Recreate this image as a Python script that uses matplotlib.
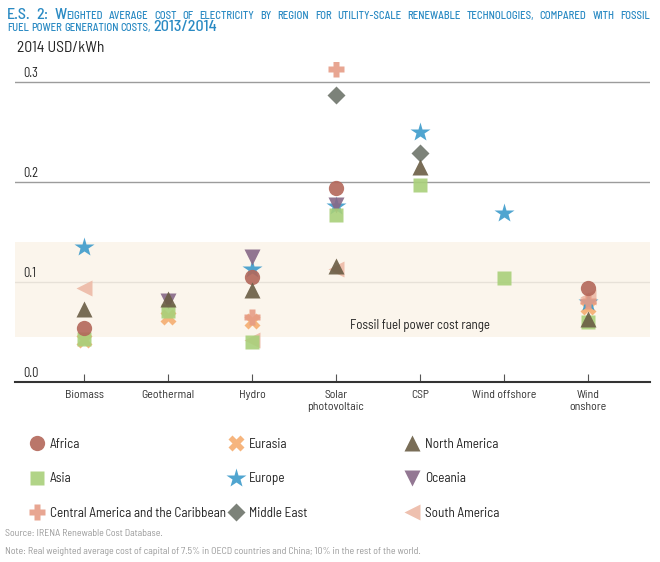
#!/usr/bin/env python3
import numpy as np
import matplotlib
matplotlib.use('Agg')
import matplotlib.pyplot as plt
from matplotlib import font_manager
from matplotlib.font_manager import FontProperties
from matplotlib.lines import Line2D

W, H = 660, 562
nan = np.nan

categories = ['Biomass', 'Geothermal', 'Hydro', 'Solar\nphotovoltaic', 'CSP',
              'Wind offshore', 'Wind\nonshore']

africa = [0.054, nan, 0.105, 0.194, nan, nan, 0.094]
asia = [0.043, 0.071, 0.040, 0.167, 0.197, 0.104, 0.060]
central_america = [nan, nan, 0.065, 0.313, nan, nan, 0.081]
eurasia = [0.042, 0.065, 0.061, nan, nan, nan, 0.075]
europe = [0.135, nan, 0.113, 0.176, 0.250, 0.169, 0.080]
middle_east = [nan, nan, nan, 0.287, 0.229, nan, nan]
north_america = [0.073, 0.083, 0.092, 0.116, 0.215, nan, 0.063]
oceania = [nan, 0.081, 0.125, 0.177, nan, nan, nan]
south_america = [0.094, nan, 0.042, 0.113, nan, nan, 0.085]

fossil_range = (0.045, 0.14)
yticks = [0.0, 0.1, 0.2, 0.3]

# name, values, marker, size, colour
regions = [
    ('Africa', africa, 'o', 11, '#B3675A'),
    ('Asia', asia, 's', 10, '#A9D07A'),
    ('Central America and the Caribbean', central_america, 'P', 11, '#E69C86'),
    ('Eurasia', eurasia, 'X', 11, '#F5AD70'),
    ('Europe', europe, '*', 15, '#3D9BCB'),
    ('Middle East', middle_east, 'D', 9, '#6E746B'),
    ('North America', north_america, '^', 11, '#6A5D45'),
    ('Oceania', oceania, 'v', 11, '#876887'),
    ('South America', south_america, '<', 11, '#EDBAA6'),
]
draw_order = ['South America', 'Eurasia', 'Europe', 'Oceania', 'Central America and the Caribbean',
              'Middle East', 'Asia', 'Africa', 'North America']

installed = {f.name for f in font_manager.fontManager.ttflist}
family = next((n for n in ['Barlow Semi Condensed', 'Asap Condensed', 'Lato'] if n in installed),
              'DejaVu Sans')
plt.rcParams['font.family'] = [family, 'DejaVu Sans']

fig = plt.figure(figsize=(W / 100, H / 100), dpi=100)
ax = fig.add_axes([15 / W, 1 - 382 / H, 635 / W, 320 / H])
ax.set_xlim(-69 / 84, 566 / 84)
ax.set_ylim(0, 0.32)

for v in yticks[1:]:
    ax.axhline(v, color='#9c9c9c', lw=1.0, zorder=1)
ax.axhspan(*fossil_range, color='#FBF3E8', alpha=0.8, lw=0, zorder=2)
ax.text(4, 0.057, 'Fossil fuel power cost range', ha='center', va='center',
        fontsize=9.3, color='#222222', zorder=3)

x = np.arange(len(categories))
lookup = {r[0]: r for r in regions}
for z, name in enumerate(draw_order):
    _, vals, m, ms, c = lookup[name]
    ax.plot(x, vals, ls='none', marker=m, ms=ms, color=c, mec='none', alpha=0.9, zorder=4 + z)

ax.set_xticks(x)
ax.set_xticklabels(categories)
ax.tick_params(axis='x', direction='in', length=6, width=0.8, color='#555555', pad=6,
               labelsize=8.5, labelcolor='#333333')
ax.set_yticks([])
for v in yticks:
    ax.annotate(f'{v:.1f}', (8 / 635, v), xycoords=('axes fraction', 'data'),
                xytext=(0, 1.5), textcoords='offset points', va='bottom', ha='left',
                fontsize=9, color='#222222')
for s in ['left', 'right', 'top']:
    ax.spines[s].set_visible(False)
ax.spines['bottom'].set_color('#333333')
ax.spines['bottom'].set_linewidth(1.5)

fig.text(17 / W, 1 - 48 / H, '2014 USD/kWh', va='center', ha='left', fontsize=11.2, color='#222222')


# title in small caps, built from runs of two sizes
def caps_runs(text):
    runs = []
    for ch in text:
        if ch.islower():
            kind, ch = 'small', ch.upper()
        elif ch.isupper() or ch.isdigit():
            kind = 'big'
        else:
            kind = runs[-1][1] if runs else 'big'
        if runs and runs[-1][1] == kind:
            runs[-1][0] += ch
        else:
            runs.append([ch, kind])
    return runs


renderer = fig.canvas.get_renderer()


def title_prop(size):
    return FontProperties(family=[family, 'DejaVu Sans'], weight='medium', size=size)


def run_width(s, size):
    prop = title_prop(size)
    w1, _, _ = renderer.get_text_width_height_descent('|' + s + '|', prop, ismath=False)
    w0, _, _ = renderer.get_text_width_height_descent('||', prop, ismath=False)
    return w1 - w0


def word_width(word, big):
    return sum(run_width(s, big if k == 'big' else big * ratio) for s, k in caps_runs(word))


title_color = '#2A8AC3'
# text, baseline, justified to this right edge (None = ragged)
lines = [('E.S. 2: Weighted average cost of electricity by region for utility-scale renewable '
          'technologies, compared with fossil', 19, 650),
         ('fuel power generation costs, 2013/2014', 31, None)]
ratio = 0.67

# size chosen so the first line fills the width with natural word spacing
words1 = lines[0][0].split(' ')
big = 11.0
natural = sum(word_width(w, big) for w in words1) + (len(words1) - 1) * run_width(' ', big * ratio)
big = min(11.5, big * 643 / natural)
space = run_width(' ', big * ratio)

for text, base, right in lines:
    words = text.split(' ')
    widths = [word_width(w, big) for w in words]
    gap = space if right is None else (right - 7 - sum(widths)) / (len(words) - 1)
    xp = 7
    for word, ww in zip(words, widths):
        xw = xp
        for s, k in caps_runs(word):
            size = big if k == 'big' else big * ratio
            fig.text(xw / W, 1 - base / H, s, fontproperties=title_prop(size), color=title_color,
                     va='baseline', ha='left')
            xw += run_width(s, size)
        xp += ww + gap

# legend, three columns
col_x = [29, 228, 404]
for i, cx in enumerate(col_x):
    handles = [Line2D([], [], ls='none', marker=m, ms=ms, color=c, mec='none', alpha=0.9)
               for _, _, m, ms, c in regions[3 * i:3 * i + 3]]
    labels = [r[0] for r in regions[3 * i:3 * i + 3]]
    leg = fig.legend(handles, labels, loc='upper left', bbox_to_anchor=(cx / W, 1 - 438 / H),
                     frameon=False, borderpad=0, borderaxespad=0, handlelength=1.2,
                     handletextpad=0.4, labelspacing=1.62, fontsize=9.5)
    for t in leg.get_texts():
        t.set_color('#222222')

fig.text(5 / W, 1 - 533 / H, 'Source: IRENA Renewable Cost Database.', fontsize=7.1,
         color='#9a9a9a', va='center')
fig.text(5 / W, 1 - 551 / H, 'Note: Real weighted average cost of capital of 7.5% in OECD countries '
         'and China; 10% in the rest of the world.', fontsize=7.1, color='#9a9a9a', va='center')

fig.savefig('out.png', dpi=100)
